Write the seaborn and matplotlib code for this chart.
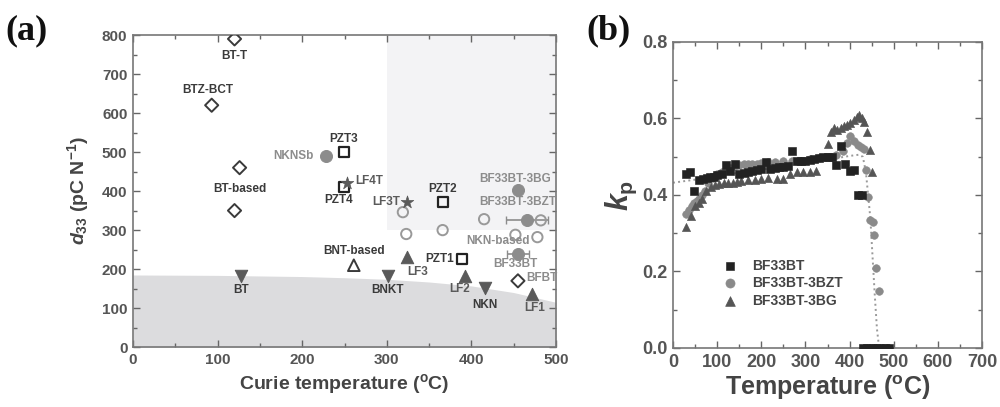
import numpy as np
import pandas as pd
import matplotlib
matplotlib.use("Agg")
import matplotlib.pyplot as plt
import seaborn as sns

sns.set_style("ticks")
plt.rcParams['font.family'] = ['Liberation Sans', 'DejaVu Sans']
plt.rcParams['font.weight'] = 'bold'
plt.rcParams['mathtext.fontset'] = 'custom'
plt.rcParams['mathtext.rm'] = 'Liberation Sans:bold'
plt.rcParams['mathtext.bf'] = 'Liberation Sans:bold'
plt.rcParams['mathtext.it'] = 'Liberation Sans:italic:bold'

DARK = '#3a3a3a'
MID = '#5a5a5a'
GREY = '#8c8c8c'

# ---- panel (a) data: Curie temperature (C) vs d33 (pC/N) ----
diamond_T = [120, 93, 126, 120, 455]
diamond_d = [790, 620, 460, 350, 170]
square_T = [249, 249, 366, 389]
square_d = [500, 410, 372, 225]
star_T = [253, 324]
star_d = [420, 372]
tri_down_T = [128, 301, 416]
tri_down_d = [182, 182, 152]
tri_up_T = [324, 393, 472]
tri_up_d = [232, 182, 135]
open_tri_T = [261]
open_tri_d = [210]
full_circ_T = [228, 455, 466, 455]
full_circ_d = [490, 402, 325, 240]
open_circ_T = [319, 323, 366, 415, 482, 452, 478]
open_circ_d = [346, 290, 300, 328, 325, 288, 282]
err_T = [466, 455]
err_d = [325, 240]
err_x = [25, 13]

# shaded regions
low_T = [0, 100, 200, 250, 300, 350, 400, 450, 500]
low_d = [185, 184, 181, 178, 174, 167, 157, 140, 115]
box_T = [300, 500]
box_lo = [300, 300]
box_hi = [800, 800]

# labels: text, x, y, ha, colour
labels = [
    ('BT-T', 120, 745, 'center', DARK),
    ('BTZ-BCT', 88, 660, 'center', DARK),
    ('BT-based', 126, 405, 'center', DARK),
    ('PZT3', 249, 533, 'center', DARK),
    ('NKNSb', 214, 490, 'right', GREY),
    ('LF4T', 263, 425, 'left', MID),
    ('PZT4', 243, 377, 'center', DARK),
    ('LF3T', 316, 372, 'right', MID),
    ('PZT2', 366, 405, 'center', DARK),
    ('BF33BT-3BG', 452, 430, 'center', GREY),
    ('BF33BT-3BZT', 455, 372, 'center', GREY),
    ('NKN-based', 432, 272, 'center', GREY),
    ('BNT-based', 261, 246, 'center', DARK),
    ('PZT1', 380, 225, 'right', DARK),
    ('LF3', 336, 192, 'center', MID),
    ('BF33BT', 452, 212, 'center', GREY),
    ('BFBT', 465, 178, 'left', GREY),
    ('BT', 128, 146, 'center', DARK),
    ('BNKT', 301, 146, 'center', DARK),
    ('LF2', 386, 150, 'center', MID),
    ('NKN', 416, 107, 'center', DARK),
    ('LF1', 475, 100, 'center', MID),
]

# ---- panel (b) data: temperature (C) vs kp ----
bf_T = [30, 38, 48, 60, 68, 76, 84, 92, 100, 110, 120, 130, 140, 150, 160, 170,
        180, 190, 200, 210, 220, 230, 240, 250, 260, 270, 280, 290, 300, 310,
        320, 330, 340, 350, 360, 370, 380, 390, 400, 410, 420, 428,
        430, 440, 450, 460, 470, 480, 490]
bf_k = [0.455, 0.46, 0.41, 0.44, 0.442, 0.444, 0.446, 0.448, 0.452, 0.455, 0.478, 0.462,
        0.48, 0.455, 0.458, 0.46, 0.462, 0.465, 0.467, 0.485, 0.468, 0.47, 0.472, 0.474,
        0.476, 0.515, 0.488, 0.49, 0.49, 0.492, 0.494, 0.496, 0.498, 0.50, 0.50, 0.478,
        0.527, 0.482, 0.462, 0.464, 0.40, 0.40,
        0, 0, 0, 0, 0, 0, 0]
bzt_T = [30, 36, 42, 48, 54, 60, 66, 72, 80, 90, 100, 110, 120, 130, 140, 150, 160,
         170, 180, 190, 200, 215, 230, 250, 270, 290, 310, 330, 350, 370, 385, 395,
         402, 410, 418, 425, 432, 438, 442, 447, 452, 455, 460, 466,
         445, 460, 475, 490]
bzt_k = [0.35, 0.36, 0.37, 0.38, 0.385, 0.39, 0.40, 0.41, 0.43, 0.445, 0.455, 0.46,
         0.465, 0.47, 0.475, 0.478, 0.48, 0.48, 0.482, 0.482, 0.483, 0.485, 0.487,
         0.488, 0.49, 0.49, 0.495, 0.497, 0.50, 0.505, 0.515, 0.535, 0.555, 0.54, 0.53,
         0.525, 0.52, 0.465, 0.395, 0.335, 0.33, 0.295, 0.21, 0.15,
         0, 0, 0, 0]
bg_T = [30, 40, 50, 58, 66, 75, 85, 95, 105, 115, 125, 135, 145, 155, 170, 185, 200,
        215, 235, 250, 265, 280, 295, 310, 325, 350, 357, 365, 372, 380, 388, 395, 402,
        410, 416, 422, 428, 432, 440, 446, 450,
        440, 455, 470, 485]
bg_k = [0.315, 0.345, 0.37, 0.38, 0.39, 0.41, 0.42, 0.425, 0.428, 0.43, 0.43, 0.432,
        0.435, 0.436, 0.438, 0.44, 0.443, 0.445, 0.442, 0.442, 0.455, 0.46, 0.46, 0.46,
        0.462, 0.533, 0.565, 0.575, 0.57, 0.575, 0.58, 0.583, 0.588, 0.595, 0.605, 0.61,
        0.60, 0.59, 0.565, 0.517, 0.46,
        0, 0, 0, 0]
fit_T = [0, 50, 100, 150, 200, 250, 300, 350, 400, 420, 430, 437, 442, 447, 452, 457,
         462, 466, 470, 480, 500]
fit_k = [0.432, 0.44, 0.45, 0.458, 0.466, 0.474, 0.483, 0.492, 0.502, 0.505, 0.50,
         0.46, 0.40, 0.34, 0.24, 0.14, 0.05, 0.01, 0, 0, 0]

fig = plt.figure(figsize=(10, 4.07), dpi=100)
ax1 = fig.add_axes([0.133, 0.147, 0.423, 0.767])
ax2 = fig.add_axes([0.673, 0.145, 0.309, 0.752])

# ---- panel (a) ----
ax1.fill_between(box_T, box_lo, box_hi, color='#f3f3f5', lw=0, zorder=0)
ax1.fill_between(low_T, 0, low_d, color='#dcdcde', lw=0, zorder=0)

ax1.errorbar(err_T, err_d, xerr=err_x, fmt='none', ecolor=GREY, elinewidth=1.2,
             capsize=3, zorder=2)

sns.scatterplot(x=diamond_T, y=diamond_d, marker='D', s=45, facecolor='none',
                edgecolor=DARK, linewidth=1.4, ax=ax1, zorder=3)
sns.scatterplot(x=square_T, y=square_d, marker='s', s=50, facecolor='none',
                edgecolor='#222222', linewidth=1.6, ax=ax1, zorder=3)
sns.scatterplot(x=star_T, y=star_d, marker='*', s=90, color=MID, edgecolor=MID,
                linewidth=0.5, ax=ax1, zorder=4)
sns.scatterplot(x=tri_down_T, y=tri_down_d, marker='v', s=80, color=MID,
                edgecolor=MID, ax=ax1, zorder=3)
sns.scatterplot(x=tri_up_T, y=tri_up_d, marker='^', s=80, color=MID,
                edgecolor=MID, ax=ax1, zorder=3)
sns.scatterplot(x=open_tri_T, y=open_tri_d, marker='^', s=70, facecolor='none',
                edgecolor=DARK, linewidth=1.4, ax=ax1, zorder=3)
sns.scatterplot(x=full_circ_T, y=full_circ_d, marker='o', s=75, color=GREY,
                edgecolor=GREY, ax=ax1, zorder=3)
sns.scatterplot(x=open_circ_T, y=open_circ_d, marker='o', s=55, facecolor='none',
                edgecolor='#999999', linewidth=1.4, ax=ax1, zorder=3)

for txt, x, y, ha, col in labels:
    ax1.text(x, y, txt, ha=ha, va='center', fontsize=8.5, fontweight='bold',
             color=col, clip_on=False, zorder=5)

ax1.set_xlim(0, 500)
ax1.set_ylim(0, 800)
ax1.set_xticks(np.arange(0, 501, 100))
ax1.set_yticks(np.arange(0, 801, 100))
ax1.set_xticks(np.arange(0, 501, 50), minor=True)
ax1.set_yticks(np.arange(0, 801, 50), minor=True)
ax1.set_xlabel(r'Curie temperature ($^{\mathrm{o}}$C)', fontsize=14,
               fontweight='bold', color='#444444', labelpad=4)
ax1.set_ylabel(r'$\mathit{d}_{33}$ (pC N$^{-1}$)', fontsize=14,
               fontweight='bold', color='#444444', labelpad=8)

# ---- panel (b) ----
sns.lineplot(x=fit_T, y=fit_k, sort=False, color='#999999', linestyle=':',
             linewidth=1.4, ax=ax2, zorder=2)
sns.scatterplot(x=bf_T, y=bf_k, marker='s', s=28, color='#222222',
                edgecolor='#222222', ax=ax2, zorder=4, label='BF33BT')
sns.scatterplot(x=bzt_T, y=bzt_k, marker='o', s=30, color='#8a8a8a',
                edgecolor='#8a8a8a', ax=ax2, zorder=3, label='BF33BT-3BZT')
sns.scatterplot(x=bg_T, y=bg_k, marker='^', s=34, color='#555555',
                edgecolor='#555555', ax=ax2, zorder=3, label='BF33BT-3BG')

leg = ax2.legend(loc='upper left', bbox_to_anchor=(0.12, 0.31), frameon=False,
                 fontsize=10, handletextpad=0.6, labelspacing=0.25,
                 borderaxespad=0, markerscale=1.2)
for t in leg.get_texts():
    t.set_color('#444444')
    t.set_fontweight('bold')

ax2.set_xlim(0, 700)
ax2.set_ylim(0, 0.8)
ax2.set_xticks(np.arange(0, 701, 100))
ax2.set_yticks(np.arange(0, 0.81, 0.2))
ax2.set_xticks(np.arange(0, 701, 50), minor=True)
ax2.set_yticks(np.arange(0, 0.81, 0.1), minor=True)
ax2.set_yticklabels(['0.0', '0.2', '0.4', '0.6', '0.8'])
ax2.set_xlabel(r'Temperature ($^{\mathrm{o}}$C)', fontsize=18,
               fontweight='bold', color='#444444', labelpad=2)
ax2.set_ylabel(r'$\mathit{k}_{\mathrm{p}}$', fontsize=22, color='#444444',
               labelpad=2)

for ax, fs in ((ax1, 11), (ax2, 13)):
    for sp in ax.spines.values():
        sp.set_visible(True)
        sp.set_color('#777777')
        sp.set_linewidth(1.2)
    ax.tick_params(which='both', direction='in', top=True, right=True,
                   color='#666666', width=1.0, labelsize=fs, labelcolor='#555555')
    ax.tick_params(which='major', length=5, pad=4)
    ax.tick_params(which='minor', length=3)
    for lab in ax.get_xticklabels() + ax.get_yticklabels():
        lab.set_fontweight('bold')

fig.text(0.005, 0.965, '(a)', fontsize=26, fontweight='bold', va='top',
         family=['Liberation Serif', 'DejaVu Serif'], color='#111111')
fig.text(0.586, 0.965, '(b)', fontsize=26, fontweight='bold', va='top',
         family=['Liberation Serif', 'DejaVu Serif'], color='#111111')

fig.savefig('out.png', dpi=100)
